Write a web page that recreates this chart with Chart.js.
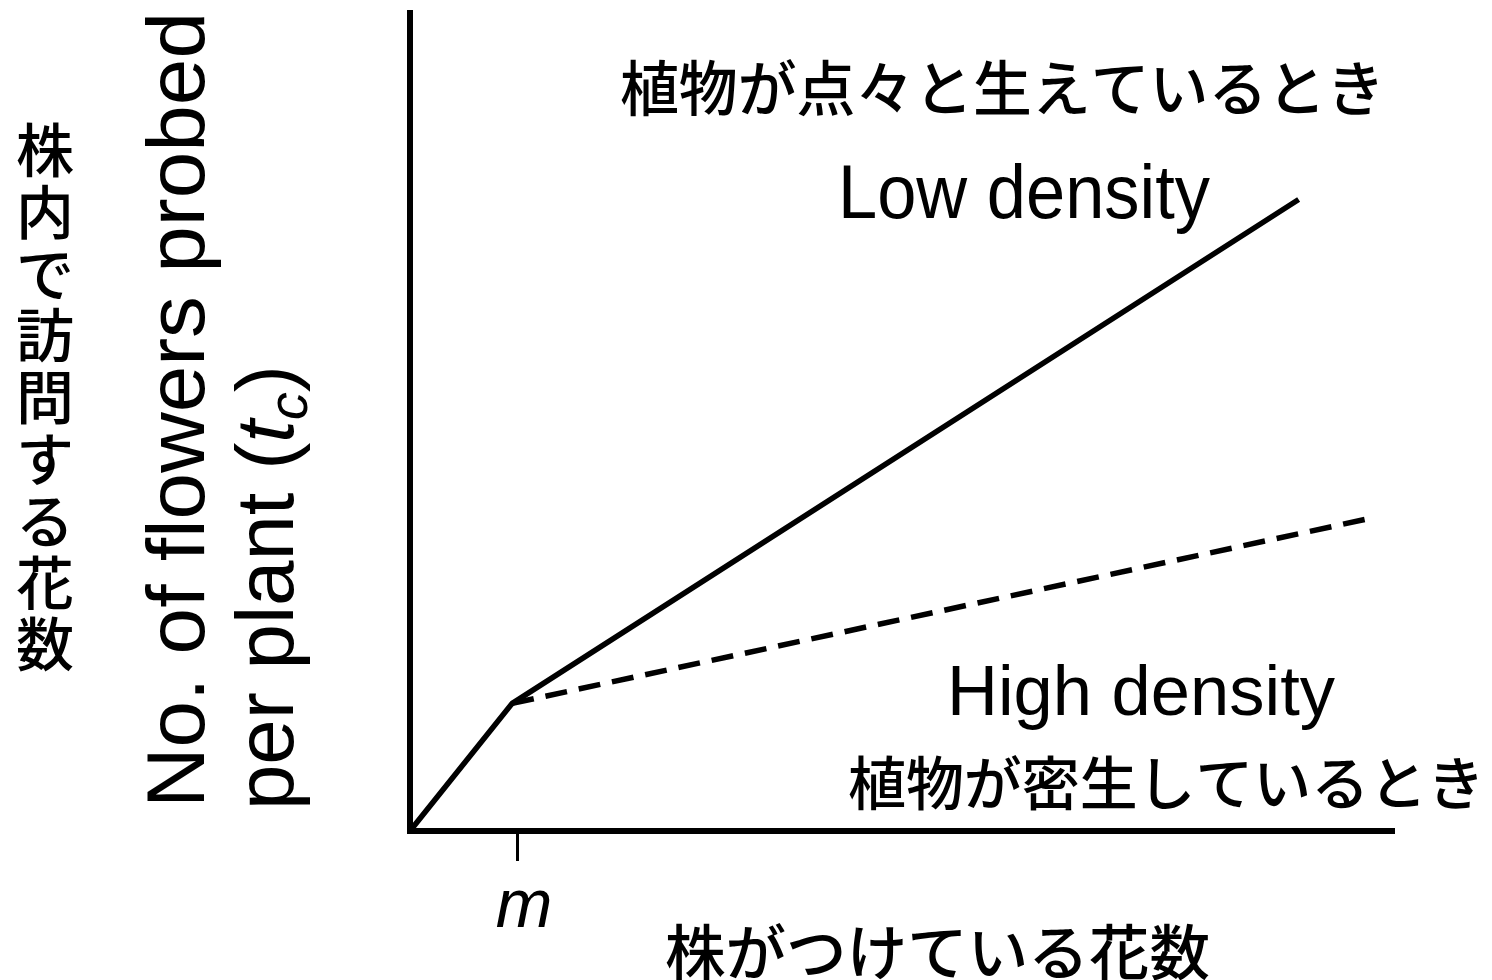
<!DOCTYPE html>
<html>
<head>
<meta charset="utf-8">
<script src="https://cdn.jsdelivr.net/npm/chart.js@4.4.1/dist/chart.umd.min.js"></script>
<style>
  html, body { margin: 0; padding: 0; background: #fff; }
  #wrap { width: 1492px; height: 980px; }
</style>
</head>
<body>
<div id="wrap"><canvas id="c" width="1492" height="980"></canvas></div>
<script>
// ── Data (arbitrary units, axis 0..10 both ways) ────────────────────────
var lowX  = [0, 1.04, 9.04];
var lowY  = [0, 1.56, 7.72];
var highX = [1.04, 9.72];
var highY = [1.56, 3.81];
var tickValues = [1.09];
var tickLabels = ['m'];

var JP = '"Noto Sans CJK JP", sans-serif';
var EN = '"Liberation Sans", Arial, sans-serif';

function pts(xs, ys) {
  return xs.map(function (x, i) { return { x: x, y: ys[i] }; });
}

// draw text squeezed/stretched to a target width
function fitText(ctx, txt, x, y, font, width) {
  ctx.save();
  ctx.font = font;
  var w = ctx.measureText(txt).width;
  ctx.translate(x, y);
  ctx.scale(width / w, 1);
  ctx.fillText(txt, 0, 0);
  ctx.restore();
}

var labelsPlugin = {
  id: 'labels',
  afterDraw: function (chart) {
    var ctx = chart.ctx;
    ctx.save();
    ctx.fillStyle = '#000';
    ctx.textAlign = 'left';

    // Japanese annotations
    ctx.textBaseline = 'middle';
    fitText(ctx, '植物が点々と生えているとき', 620, 88, '500 60px ' + JP, 765);
    fitText(ctx, '植物が密生しているとき', 848, 783, '500 58px ' + JP, 637);
    fitText(ctx, '株がつけている花数', 665, 952, '500 60px ' + JP, 545);

    // English annotations
    ctx.textBaseline = 'alphabetic';
    fitText(ctx, 'Low density', 838, 218, '76px ' + EN, 372);
    fitText(ctx, 'High density', 947, 715, '70px ' + EN, 388);

    // vertical Japanese y title
    ctx.textAlign = 'center';
    ctx.textBaseline = 'middle';
    ctx.font = '500 58px ' + JP;
    var vt = '株内で訪問する花数';
    for (var i = 0; i < vt.length; i++) {
      ctx.fillText(vt[i], 45, 150 + i * 61.8);
    }

    // rotated English y title
    ctx.textAlign = 'left';
    ctx.textBaseline = 'alphabetic';
    ctx.save();
    ctx.translate(204, 808);
    ctx.rotate(-Math.PI / 2);
    fitText(ctx, 'No. of flowers probed', 0, 0, '82px ' + EN, 796);
    ctx.restore();

    ctx.save();
    ctx.translate(293, 810);
    ctx.rotate(-Math.PI / 2);
    var parts = [
      { t: 'per plant (', f: '82px ' + EN, dy: 0 },
      { t: 't', f: 'italic 82px ' + EN, dy: 0 },
      { t: 'c', f: 'italic 56px ' + EN, dy: 14 },
      { t: ')', f: '82px ' + EN, dy: 0 }
    ];
    var total = 0;
    parts.forEach(function (p) { ctx.font = p.f; p.w = ctx.measureText(p.t).width; total += p.w; });
    ctx.scale(445 / total, 1);
    var cx = 0;
    parts.forEach(function (p) {
      ctx.font = p.f;
      ctx.fillText(p.t, cx, p.dy);
      cx += p.w;
    });
    ctx.restore();

    ctx.restore();
  }
};

new Chart(document.getElementById('c'), {
  type: 'line',
  data: {
    datasets: [
      {
        label: 'Low density',
        data: pts(lowX, lowY),
        borderColor: '#000',
        borderWidth: 5.5,
        pointRadius: 0,
        tension: 0,
        fill: false
      },
      {
        label: 'High density',
        data: pts(highX, highY),
        borderColor: '#000',
        borderWidth: 5.5,
        borderDash: [22, 12],
        pointRadius: 0,
        tension: 0,
        fill: false
      }
    ]
  },
  options: {
    responsive: false,
    animation: false,
    events: [],
    layout: { autoPadding: false, padding: { left: 410, right: 99, top: 13, bottom: 0 } },
    plugins: { legend: { display: false }, tooltip: { enabled: false } },
    scales: {
      x: {
        type: 'linear',
        min: 0, max: 10,
        afterBuildTicks: function (s) { s.ticks = tickValues.map(function (v) { return { value: v }; }); },
        afterFit: function (s) { s.height = 149; },
        border: { display: true, color: '#000', width: 6 },
        grid: { display: true, drawOnChartArea: false, drawTicks: true, tickLength: 30, color: '#000', lineWidth: 3 },
        ticks: {
          display: true,
          color: '#000',
          padding: 6,
          labelOffset: 7,
          font: { family: 'Liberation Sans', style: 'italic', size: 68 },
          callback: function (v, i) { return tickLabels[i]; }
        }
      },
      y: {
        type: 'linear',
        min: 0, max: 10,
        afterFit: function (s) { s.width = 0; },
        border: { display: true, color: '#000', width: 6 },
        grid: { display: false, drawTicks: false },
        ticks: { display: false }
      }
    }
  },
  plugins: [labelsPlugin]
});
</script>
</body>
</html>
